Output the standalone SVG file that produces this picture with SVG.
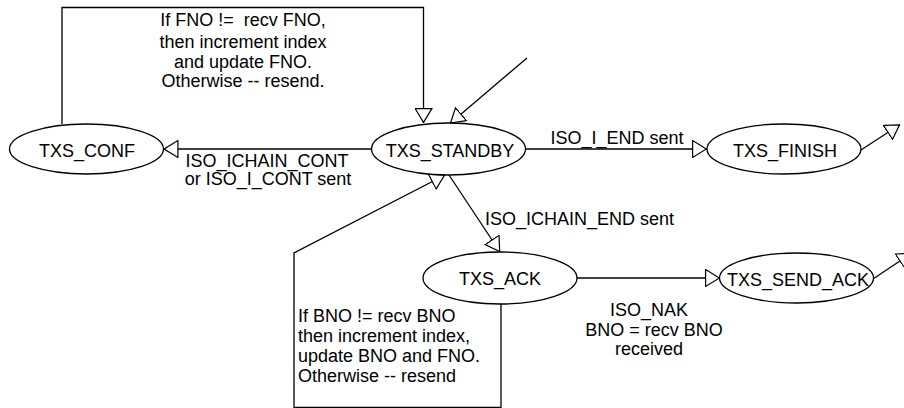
<svg xmlns="http://www.w3.org/2000/svg" width="904" height="408" viewBox="0 0 904 408">
<style>
.bg{fill:#fff}
.st ellipse{fill:#fff;stroke:#000;stroke-width:1.3}
text{font-family:"Liberation Sans",Arial,sans-serif;font-size:18px;fill:#000}
.c{text-anchor:middle}
.e path{fill:none;stroke:#000;stroke-width:1.3}
</style>
<defs>
<marker id="tri" viewBox="0 0 15 18" refX="15" refY="9" markerWidth="15" markerHeight="18" markerUnits="userSpaceOnUse" orient="auto">
<path d="M0.6,0.6 L14.4,9 L0.6,17.4 Z" fill="#fff" stroke="#000" stroke-width="1.2"/>
</marker>
</defs>
<rect class="bg" x="0" y="0" width="904" height="408"/>
<g id="connectors" class="e">
<path d="M62,124 V7.5 H423.5 V123" marker-end="url(#tri)"/>
<path d="M372,149 H163.5" marker-end="url(#tri)"/>
<path d="M527,58 L450,123.5" marker-end="url(#tri)"/>
<path d="M525.5,149 H707" marker-end="url(#tri)"/>
<path d="M861,150 L900,124.5" marker-end="url(#tri)"/>
<path d="M449,175 L500,252" marker-end="url(#tri)"/>
<path d="M501,304 V407.3 H294 V253 L445,175" marker-end="url(#tri)"/>
<path d="M577,278 H720" marker-end="url(#tri)"/>
<path d="M873,279 L912,253" marker-end="url(#tri)"/>
</g>
<g id="labels">
<text xml:space="preserve" class="c" x="243" y="25.5">If FNO !=  recv FNO,</text>
<text class="c" x="243" y="47.5">then increment index</text>
<text class="c" x="243" y="68">and update FNO.</text>
<text class="c" x="243" y="87">Otherwise -- resend.</text>
<text class="c" x="267" y="166.5">ISO_ICHAIN_CONT</text>
<text class="c" x="268" y="185">or ISO_I_CONT sent</text>
<text class="c" x="617" y="144">ISO_I_END sent</text>
<text x="485" y="225">ISO_ICHAIN_END sent</text>
<text x="298" y="322">If BNO != recv BNO</text>
<text x="298" y="342">then increment index,</text>
<text x="298" y="362">update BNO and FNO.</text>
<text x="298" y="382">Otherwise -- resend</text>
<text class="c" x="649" y="316">ISO_NAK</text>
<text class="c" x="654" y="336">BNO = recv BNO</text>
<text class="c" x="649" y="355">received</text>
</g>
<g id="TXS_CONF" class="st">
<ellipse cx="86.5" cy="149" rx="77" ry="25"/>
<text class="c" x="87" y="156.5">TXS_CONF</text>
</g>
<g id="TXS_STANDBY" class="st">
<ellipse cx="448.5" cy="149" rx="77" ry="26"/>
<text class="c" x="450" y="156.5">TXS_STANDBY</text>
</g>
<g id="TXS_FINISH" class="st">
<ellipse cx="784" cy="149" rx="77" ry="25"/>
<text class="c" x="785" y="156.5">TXS_FINISH</text>
</g>
<g id="TXS_ACK" class="st">
<ellipse cx="500" cy="278" rx="77" ry="26"/>
<text class="c" x="500" y="285">TXS_ACK</text>
</g>
<g id="TXS_SEND_ACK" class="st">
<ellipse cx="796.5" cy="278" rx="77" ry="25"/>
<text class="c" x="798" y="285.5">TXS_SEND_ACK</text>
</g>
</svg>
